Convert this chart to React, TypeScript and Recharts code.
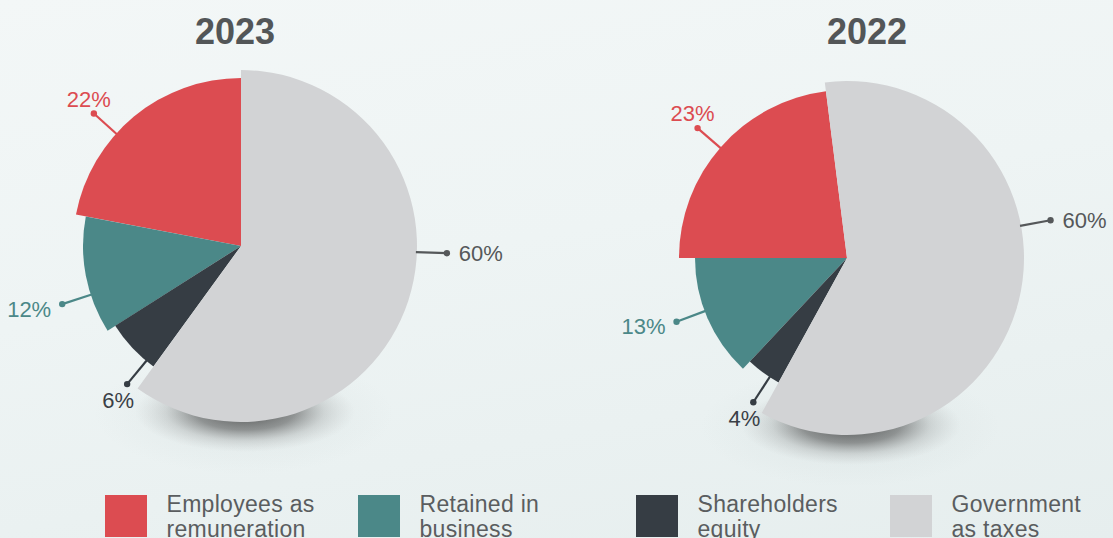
import React from 'react';
import { PieChart, Pie, Cell } from 'recharts';

// ---------- data ----------
const CATEGORIES = ['Employees as remuneration', 'Retained in business', 'Shareholders equity', 'Government as taxes'];
const LEGEND_LINES = [
  ['Employees as', 'remuneration'],
  ['Retained in', 'business'],
  ['Shareholders', 'equity'],
  ['Government', 'as taxes'],
];
const YEARS = ['2023', '2022'];
const VALUES_2023 = [22, 12, 6, 60];
const VALUES_2022 = [23, 13, 4, 60];

// ---------- style ----------
const COLORS = ['#dc4c51', '#4b8888', '#363d44', '#d2d3d5'];
const LABEL_COLORS = ['#dc4c51', '#4b8888', '#3a4046', '#55585a'];
const LINE_COLORS = ['#dc4c51', '#4b8888', '#363d44', '#55585a'];
const LABEL_SIDES = ['top', 'left', 'bottom', 'right'];
const FONT = '"Liberation Sans", Arial, Helvetica, sans-serif';

const W = 1113;
const H = 538;

const CHARTS = [
  {
    year: YEARS[0],
    values: VALUES_2023,
    left: 0,
    cx: 241,
    cy: 246,
    startAngle: 90,
    radii: [168, 158, 149, 176],
    labelAngles: [138, 198, 230.5, 358],
    titleX: 235,
  },
  {
    year: YEARS[1],
    values: VALUES_2022,
    left: 556,
    cx: 291,
    cy: 258,
    startAngle: 97.2,
    radii: [168, 152, 142, 177],
    labelAngles: [139, 200.5, 237, 10.5],
    titleX: 867,
  },
];

const LEGEND_POS = [105, 358, 636, 890];

const makeLabel = (chart: any, k: number) => (props: any) => {
  if (props.index !== k) return null;
  const { cx, cy, outerRadius, value } = props;
  const a = (chart.labelAngles[k] * Math.PI) / 180;
  const c = Math.cos(a);
  const s = -Math.sin(a);
  const x1 = cx + (outerRadius - 1) * c;
  const y1 = cy + (outerRadius - 1) * s;
  const x2 = cx + (outerRadius + 30) * c;
  const y2 = cy + (outerRadius + 30) * s;
  const side = LABEL_SIDES[k];
  let tx = x2;
  let ty = y2;
  let anchor: any = 'middle';
  if (side === 'top') {
    tx = x2 - 5;
    ty = y2 - 7;
  } else if (side === 'left') {
    tx = x2 - 11;
    ty = y2 + 12.5;
    anchor = 'end';
  } else if (side === 'bottom') {
    tx = x2 - 9;
    ty = y2 + 23.5;
  } else {
    tx = x2 + 12;
    ty = y2 + 7.5;
    anchor = 'start';
  }
  return (
    <g>
      <line x1={x1} y1={y1} x2={x2} y2={y2} stroke={LINE_COLORS[k]} strokeWidth={2.2} />
      <circle cx={x2} cy={y2} r={3.2} fill={LINE_COLORS[k]} />
      <text x={tx} y={ty} textAnchor={anchor} fill={LABEL_COLORS[k]} fontSize={22} fontFamily={FONT}>
        {`${value}%`}
      </text>
    </g>
  );
};

function PieBlock({ chart }: { chart: any }) {
  const data = chart.values.map((v: number, i: number) => ({ name: CATEGORIES[i], value: v }));
  return (
    <div style={{ position: 'absolute', left: chart.left, top: 0 }}>
      <PieChart width={556} height={H} margin={{ top: 0, right: 0, bottom: 0, left: 0 }}>
        {CATEGORIES.map((_, k) => (
          <Pie
            key={k}
            data={data}
            dataKey="value"
            nameKey="name"
            cx={chart.cx}
            cy={chart.cy}
            innerRadius={0}
            outerRadius={chart.radii[k]}
            startAngle={chart.startAngle}
            endAngle={chart.startAngle + 360}
            stroke="none"
            isAnimationActive={false}
            labelLine={false}
            label={makeLabel(chart, k)}
          >
            {data.map((_d: any, i: number) => (
              <Cell key={i} fill={i === k ? COLORS[i] : 'none'} stroke="none" />
            ))}
          </Pie>
        ))}
      </PieChart>
    </div>
  );
}

export default function App() {
  return (
    <div
      style={{
        position: 'absolute',
        left: 0,
        top: 0,
        width: W,
        height: H,
        overflow: 'hidden',
        background: 'linear-gradient(170deg, #f3f7f7 0%, #eef4f4 45%, #e6eeee 100%)',
        fontFamily: FONT,
      }}
    >
      <svg width={W} height={H} style={{ position: 'absolute', left: 0, top: 0 }}>
        <defs>
          <radialGradient id="pieShadow" cx="50%" cy="50%" r="50%">
            <stop offset="0%" stopColor="#303030" stopOpacity={0.8} />
            <stop offset="45%" stopColor="#4a4a4a" stopOpacity={0.55} />
            <stop offset="72%" stopColor="#707070" stopOpacity={0.2} />
            <stop offset="100%" stopColor="#999" stopOpacity={0} />
          </radialGradient>
          <radialGradient id="pieHalo" cx="50%" cy="50%" r="50%">
            <stop offset="0%" stopColor="#9aa" stopOpacity={0.14} />
            <stop offset="100%" stopColor="#9aa" stopOpacity={0} />
          </radialGradient>
        </defs>
        {CHARTS.map((c) => (
          <g key={c.year}>
            <ellipse cx={c.left + c.cx + 3} cy={c.cy + c.radii[3] - 8} rx={150} ry={60} fill="url(#pieHalo)" />
            <ellipse cx={c.left + c.cx + 4} cy={c.cy + c.radii[3] - 10} rx={110} ry={40} fill="url(#pieShadow)" />
            <text
              x={c.titleX}
              y={44}
              textAnchor="middle"
              fontSize={36}
              fontWeight="bold"
              fill="#535658"
              fontFamily={FONT}
            >
              {c.year}
            </text>
          </g>
        ))}
      </svg>
      {CHARTS.map((c) => (
        <PieBlock key={c.year} chart={c} />
      ))}
      {CATEGORIES.map((cat, i) => (
        <div key={cat} style={{ position: 'absolute', left: LEGEND_POS[i], top: 495 }}>
          <div style={{ position: 'absolute', left: 0, top: 0, width: 42, height: 42, background: COLORS[i] }} />
          <div
            style={{
              position: 'absolute',
              left: 61.5,
              top: -3,
              fontSize: 23,
              lineHeight: '24.5px',
              letterSpacing: 0.3,
              color: '#5a5d5f',
              whiteSpace: 'nowrap',
            }}
          >
            {LEGEND_LINES[i].map((ln) => (
              <div key={ln}>{ln}</div>
            ))}
          </div>
        </div>
      ))}
    </div>
  );
}
